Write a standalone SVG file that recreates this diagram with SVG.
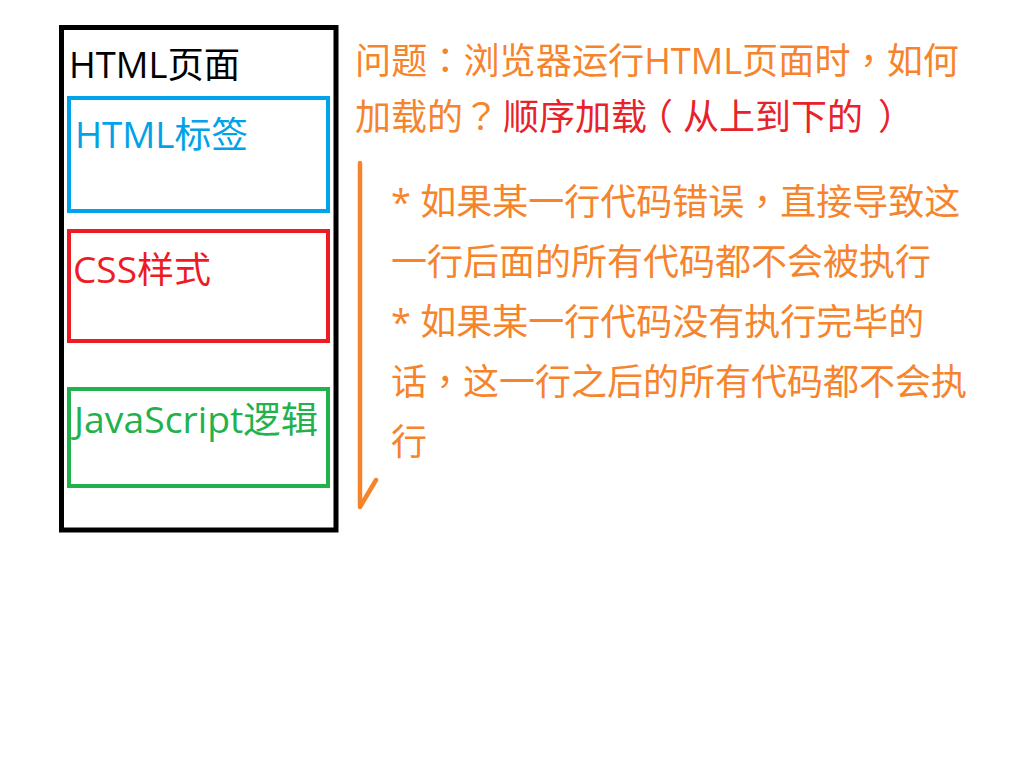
<svg xmlns="http://www.w3.org/2000/svg" width="1024" height="768" viewBox="0 0 1024 768">
<style>
text { font-family: "Open Sans", "Noto Sans CJK SC", sans-serif; font-size: 36px; }
.p { font-family: "Noto Sans CJK TC", "Noto Sans CJK SC", sans-serif; }
.h { font-family: "Noto Sans CJK SC", sans-serif; font-feature-settings: "halt" 1; }
.box { fill: none; stroke-width: 4; }
.org { fill: #F6842C; }
.red { fill: #E8222A; }
</style>
<rect width="1024" height="768" fill="#FFFFFF"/>
<g id="page">
  <rect x="61.5" y="27.5" width="274.5" height="502.5" fill="none" stroke="#000000" stroke-width="5"/>
  <text x="69" y="78" fill="#000000" textLength="171" lengthAdjust="spacingAndGlyphs">HTML页面</text>
</g>
<g id="html-tags">
  <rect class="box" x="69" y="98" width="259" height="113" stroke="#00A2E8"/>
  <text x="75" y="148" fill="#00A2E8" textLength="173" lengthAdjust="spacingAndGlyphs">HTML标签</text>
</g>
<g id="css-styles">
  <rect class="box" x="69" y="231" width="259" height="110" stroke="#ED1C24"/>
  <text x="73" y="283" fill="#ED1C24" textLength="138" lengthAdjust="spacingAndGlyphs">CSS样式</text>
</g>
<g id="js-logic">
  <rect class="box" x="69" y="389" width="259" height="97" stroke="#22B14C"/>
  <text x="74" y="433" fill="#22B14C" textLength="244" lengthAdjust="spacingAndGlyphs">JavaScript逻辑</text>
</g>
<g id="question">
  <text class="org" x="355" y="74" textLength="604" lengthAdjust="spacingAndGlyphs">问题<tspan class="p">：</tspan>浏览器运行HTML页面时<tspan class="p">，</tspan>如何</text>
  <text class="org" x="355" y="130">加载的<tspan class="p">？</tspan></text>
  <text class="red" x="503" y="130">顺序加载<tspan class="h" dx="8">（</tspan><tspan dx="10">从上到下的</tspan><tspan class="h" dx="15">）</tspan></text>
</g>
<g id="connectors">
  <path d="M360 163 L360 507 L376 480" fill="none" stroke="#F6842C" stroke-width="4.5" stroke-linecap="round" stroke-linejoin="round"/>
</g>
<g id="notes">
  <text class="org" x="391" y="215">* 如果某一行代码错误<tspan class="p">，</tspan>直接导致这</text>
  <text class="org" x="391" y="275">一行后面的所有代码都不会被执行</text>
  <text class="org" x="391" y="335">* 如果某一行代码没有执行完毕的</text>
  <text class="org" x="391" y="395">话<tspan class="p">，</tspan>这一行之后的所有代码都不会执</text>
  <text class="org" x="391" y="455">行</text>
</g>
</svg>
